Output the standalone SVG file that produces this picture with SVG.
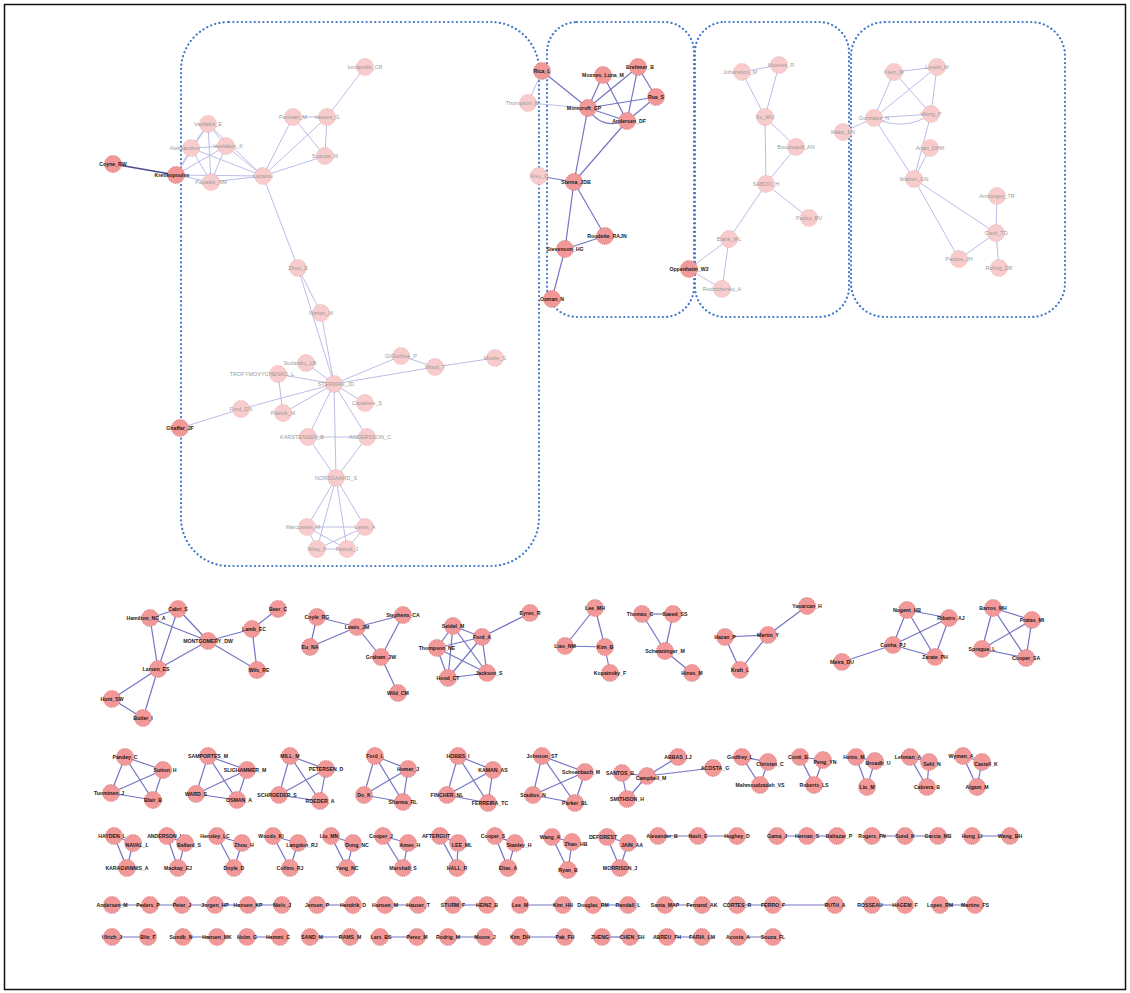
<svg xmlns="http://www.w3.org/2000/svg" width="1130" height="993" viewBox="0 0 1130 993">
<style>
.bg{fill:#fff}
.frame{fill:none;stroke:#111;stroke-width:1.5}
.box{fill:none;stroke:#3f78c8;stroke-width:2.2;stroke-dasharray:0.1 4.2;stroke-linecap:round}
.ef{stroke:#bcbce8;stroke-width:1;fill:none}
.ed{stroke:#7474c4;stroke-width:1.2;fill:none}
.ek{stroke:#4a4a90;stroke-width:1.6;fill:none}
.nf circle{fill:#f8cccc;stroke:#eaa9a9;stroke-width:0.8;stroke-dasharray:1.2 1}
.nb circle{fill:#f29898;stroke:#d26e6e;stroke-width:0.8;stroke-dasharray:1.2 1}
.nf text{fill:#9a9a9a;font-family:"Liberation Sans",Arial,sans-serif;font-size:5.5px;text-anchor:middle}
.nb text{fill:#1a1a1a;font-family:"Liberation Sans",Arial,sans-serif;font-size:5.2px;font-weight:bold;text-anchor:middle}
</style>
<rect class="bg" x="0" y="0" width="1130" height="993"/>
<rect class="frame" x="4.5" y="4.5" width="1121" height="985"/>
<g id="groups">
<rect class="box" x="181" y="22" width="358" height="544" rx="48"/>
<rect class="box" x="547" y="22" width="147" height="295" rx="30"/>
<rect class="box" x="695" y="22" width="154" height="295" rx="30"/>
<rect class="box" x="851" y="22" width="214" height="295" rx="34"/>
</g>
<g id="connectors">
<line class="ek" x1="113" y1="164" x2="176" y2="175"/>
<line class="ef" x1="176" y1="175" x2="191" y2="148"/>
<line class="ef" x1="176" y1="175" x2="208" y2="124"/>
<line class="ef" x1="176" y1="175" x2="226" y2="146"/>
<line class="ef" x1="176" y1="175" x2="211" y2="182"/>
<line class="ef" x1="176" y1="175" x2="263" y2="176"/>
<line class="ef" x1="191" y1="148" x2="208" y2="124"/>
<line class="ef" x1="191" y1="148" x2="226" y2="146"/>
<line class="ef" x1="191" y1="148" x2="211" y2="182"/>
<line class="ef" x1="191" y1="148" x2="263" y2="176"/>
<line class="ef" x1="208" y1="124" x2="226" y2="146"/>
<line class="ef" x1="208" y1="124" x2="211" y2="182"/>
<line class="ef" x1="208" y1="124" x2="263" y2="176"/>
<line class="ef" x1="226" y1="146" x2="211" y2="182"/>
<line class="ef" x1="226" y1="146" x2="263" y2="176"/>
<line class="ef" x1="211" y1="182" x2="263" y2="176"/>
<line class="ef" x1="263" y1="176" x2="293" y2="117"/>
<line class="ef" x1="263" y1="176" x2="327" y2="117"/>
<line class="ef" x1="263" y1="176" x2="325" y2="156"/>
<line class="ef" x1="263" y1="176" x2="298" y2="268"/>
<line class="ef" x1="293" y1="117" x2="327" y2="117"/>
<line class="ef" x1="293" y1="117" x2="325" y2="156"/>
<line class="ef" x1="327" y1="117" x2="325" y2="156"/>
<line class="ef" x1="327" y1="117" x2="365" y2="67"/>
<line class="ef" x1="298" y1="268" x2="321" y2="313"/>
<line class="ef" x1="298" y1="268" x2="334" y2="384"/>
<line class="ef" x1="321" y1="313" x2="334" y2="384"/>
<line class="ef" x1="334" y1="384" x2="306" y2="363"/>
<line class="ef" x1="334" y1="384" x2="278" y2="374"/>
<line class="ef" x1="334" y1="384" x2="401" y2="356"/>
<line class="ef" x1="334" y1="384" x2="435" y2="367"/>
<line class="ef" x1="334" y1="384" x2="365" y2="403"/>
<line class="ef" x1="334" y1="384" x2="283" y2="413"/>
<line class="ef" x1="334" y1="384" x2="241" y2="409"/>
<line class="ef" x1="334" y1="384" x2="308" y2="437"/>
<line class="ef" x1="334" y1="384" x2="367" y2="437"/>
<line class="ef" x1="334" y1="384" x2="336" y2="478"/>
<line class="ef" x1="278" y1="374" x2="283" y2="413"/>
<line class="ef" x1="180" y1="428" x2="241" y2="409"/>
<line class="ef" x1="401" y1="356" x2="435" y2="367"/>
<line class="ef" x1="435" y1="367" x2="495" y2="358"/>
<line class="ef" x1="308" y1="437" x2="367" y2="437"/>
<line class="ef" x1="308" y1="437" x2="336" y2="478"/>
<line class="ef" x1="367" y1="437" x2="336" y2="478"/>
<line class="ef" x1="336" y1="478" x2="307" y2="527"/>
<line class="ef" x1="336" y1="478" x2="365" y2="527"/>
<line class="ef" x1="336" y1="478" x2="317" y2="549"/>
<line class="ef" x1="336" y1="478" x2="347" y2="549"/>
<line class="ef" x1="307" y1="527" x2="365" y2="527"/>
<line class="ef" x1="307" y1="527" x2="317" y2="549"/>
<line class="ef" x1="307" y1="527" x2="347" y2="549"/>
<line class="ef" x1="365" y1="527" x2="317" y2="549"/>
<line class="ef" x1="365" y1="527" x2="347" y2="549"/>
<line class="ef" x1="317" y1="549" x2="347" y2="549"/>
<line class="ef" x1="542" y1="71" x2="528" y2="103"/>
<line class="ed" x1="542" y1="71" x2="588" y2="108"/>
<line class="ef" x1="528" y1="103" x2="588" y2="108"/>
<line class="ed" x1="588" y1="108" x2="603" y2="75"/>
<line class="ed" x1="588" y1="108" x2="638" y2="67"/>
<line class="ed" x1="588" y1="108" x2="656" y2="97"/>
<line class="ed" x1="588" y1="108" x2="627" y2="121"/>
<path class="ed" d="M588 108 Q600 130 627 121"/>
<line class="ed" x1="588" y1="108" x2="574" y2="182"/>
<line class="ed" x1="603" y1="75" x2="627" y2="121"/>
<line class="ed" x1="638" y1="67" x2="656" y2="97"/>
<line class="ed" x1="638" y1="67" x2="627" y2="121"/>
<line class="ed" x1="656" y1="97" x2="627" y2="121"/>
<line class="ed" x1="627" y1="121" x2="574" y2="182"/>
<line class="ed" x1="539" y1="176" x2="574" y2="182"/>
<line class="ed" x1="574" y1="182" x2="605" y2="236"/>
<line class="ed" x1="574" y1="182" x2="565" y2="249"/>
<line class="ed" x1="605" y1="236" x2="565" y2="249"/>
<line class="ed" x1="565" y1="249" x2="552" y2="299"/>
<line class="ef" x1="742" y1="72" x2="779" y2="65"/>
<line class="ef" x1="742" y1="72" x2="765" y2="117"/>
<line class="ef" x1="779" y1="65" x2="765" y2="117"/>
<line class="ef" x1="765" y1="117" x2="796" y2="147"/>
<line class="ef" x1="765" y1="117" x2="766" y2="184"/>
<line class="ef" x1="796" y1="147" x2="766" y2="184"/>
<line class="ef" x1="766" y1="184" x2="809" y2="218"/>
<line class="ef" x1="766" y1="184" x2="729" y2="239"/>
<line class="ef" x1="729" y1="239" x2="689" y2="269"/>
<line class="ef" x1="729" y1="239" x2="722" y2="289"/>
<line class="ef" x1="689" y1="269" x2="722" y2="289"/>
<line class="ef" x1="894" y1="72" x2="937" y2="67"/>
<line class="ef" x1="894" y1="72" x2="874" y2="118"/>
<line class="ef" x1="894" y1="72" x2="931" y2="114"/>
<line class="ef" x1="937" y1="67" x2="874" y2="118"/>
<line class="ef" x1="937" y1="67" x2="931" y2="114"/>
<line class="ef" x1="874" y1="118" x2="931" y2="114"/>
<path class="ef" d="M874 118 Q905 132 931 114"/>
<line class="ef" x1="874" y1="118" x2="843" y2="132"/>
<line class="ef" x1="874" y1="118" x2="914" y2="179"/>
<line class="ef" x1="931" y1="114" x2="914" y2="179"/>
<line class="ef" x1="930" y1="148" x2="914" y2="179"/>
<line class="ef" x1="914" y1="179" x2="996" y2="233"/>
<line class="ef" x1="914" y1="179" x2="959" y2="259"/>
<line class="ef" x1="997" y1="196" x2="996" y2="233"/>
<line class="ef" x1="996" y1="233" x2="959" y2="259"/>
<line class="ef" x1="996" y1="233" x2="999" y2="268"/>
<line class="ed" x1="150" y1="618" x2="178" y2="609"/>
<line class="ed" x1="150" y1="618" x2="208" y2="641"/>
<line class="ed" x1="150" y1="618" x2="158" y2="669"/>
<line class="ed" x1="178" y1="609" x2="208" y2="641"/>
<line class="ed" x1="178" y1="609" x2="158" y2="669"/>
<line class="ed" x1="208" y1="641" x2="158" y2="669"/>
<line class="ed" x1="208" y1="641" x2="252" y2="629"/>
<line class="ed" x1="208" y1="641" x2="257" y2="670"/>
<line class="ed" x1="252" y1="629" x2="278" y2="609"/>
<line class="ed" x1="252" y1="629" x2="257" y2="670"/>
<line class="ed" x1="158" y1="669" x2="112" y2="699"/>
<line class="ed" x1="158" y1="669" x2="143" y2="718"/>
<line class="ed" x1="112" y1="699" x2="143" y2="718"/>
<line class="ed" x1="317" y1="617" x2="310" y2="647"/>
<line class="ed" x1="317" y1="617" x2="357" y2="627"/>
<line class="ed" x1="310" y1="647" x2="357" y2="627"/>
<line class="ed" x1="357" y1="627" x2="403" y2="615"/>
<line class="ed" x1="357" y1="627" x2="381" y2="657"/>
<line class="ed" x1="403" y1="615" x2="381" y2="657"/>
<line class="ed" x1="381" y1="657" x2="398" y2="693"/>
<line class="ed" x1="453" y1="626" x2="482" y2="637"/>
<line class="ed" x1="453" y1="626" x2="437" y2="648"/>
<line class="ed" x1="453" y1="626" x2="448" y2="678"/>
<line class="ed" x1="453" y1="626" x2="487" y2="673"/>
<line class="ed" x1="482" y1="637" x2="437" y2="648"/>
<line class="ed" x1="482" y1="637" x2="448" y2="678"/>
<line class="ed" x1="482" y1="637" x2="487" y2="673"/>
<line class="ed" x1="482" y1="637" x2="530" y2="613"/>
<line class="ed" x1="437" y1="648" x2="448" y2="678"/>
<line class="ed" x1="437" y1="648" x2="487" y2="673"/>
<line class="ed" x1="448" y1="678" x2="487" y2="673"/>
<line class="ed" x1="595" y1="608" x2="565" y2="646"/>
<line class="ed" x1="595" y1="608" x2="605" y2="647"/>
<line class="ed" x1="565" y1="646" x2="605" y2="647"/>
<line class="ed" x1="605" y1="647" x2="610" y2="673"/>
<line class="ed" x1="642" y1="614" x2="673" y2="614"/>
<line class="ed" x1="642" y1="614" x2="665" y2="651"/>
<line class="ed" x1="673" y1="614" x2="665" y2="651"/>
<line class="ed" x1="665" y1="651" x2="692" y2="673"/>
<line class="ed" x1="725" y1="637" x2="768" y2="635"/>
<line class="ed" x1="725" y1="637" x2="740" y2="670"/>
<line class="ed" x1="768" y1="635" x2="740" y2="670"/>
<line class="ed" x1="768" y1="635" x2="807" y2="606"/>
<line class="ed" x1="907" y1="610" x2="949" y2="618"/>
<line class="ed" x1="907" y1="610" x2="893" y2="645"/>
<line class="ed" x1="907" y1="610" x2="935" y2="657"/>
<line class="ed" x1="949" y1="618" x2="893" y2="645"/>
<line class="ed" x1="949" y1="618" x2="935" y2="657"/>
<line class="ed" x1="893" y1="645" x2="935" y2="657"/>
<line class="ed" x1="893" y1="645" x2="842" y2="662"/>
<line class="ed" x1="993" y1="608" x2="1032" y2="620"/>
<line class="ed" x1="993" y1="608" x2="982" y2="649"/>
<line class="ed" x1="993" y1="608" x2="1026" y2="658"/>
<line class="ed" x1="1032" y1="620" x2="982" y2="649"/>
<line class="ed" x1="1032" y1="620" x2="1026" y2="658"/>
<line class="ed" x1="982" y1="649" x2="1026" y2="658"/>
<line class="ed" x1="125" y1="757" x2="163" y2="770"/><line class="ed" x1="125" y1="757" x2="111" y2="793"/><line class="ed" x1="125" y1="757" x2="153" y2="800"/><line class="ed" x1="163" y1="770" x2="111" y2="793"/><line class="ed" x1="163" y1="770" x2="153" y2="800"/><line class="ed" x1="111" y1="793" x2="153" y2="800"/>
<line class="ed" x1="208" y1="756" x2="247" y2="770"/><line class="ed" x1="208" y1="756" x2="196" y2="794"/><line class="ed" x1="208" y1="756" x2="237" y2="800"/><line class="ed" x1="247" y1="770" x2="196" y2="794"/><line class="ed" x1="247" y1="770" x2="237" y2="800"/><line class="ed" x1="196" y1="794" x2="237" y2="800"/>
<line class="ed" x1="290" y1="756" x2="326" y2="769"/><line class="ed" x1="290" y1="756" x2="279" y2="795"/><line class="ed" x1="290" y1="756" x2="320" y2="801"/><line class="ed" x1="326" y1="769" x2="279" y2="795"/><line class="ed" x1="326" y1="769" x2="320" y2="801"/><line class="ed" x1="279" y1="795" x2="320" y2="801"/>
<line class="ed" x1="375" y1="756" x2="408" y2="769"/><line class="ed" x1="375" y1="756" x2="364" y2="795"/><line class="ed" x1="375" y1="756" x2="403" y2="802"/><line class="ed" x1="408" y1="769" x2="364" y2="795"/><line class="ed" x1="408" y1="769" x2="403" y2="802"/><line class="ed" x1="364" y1="795" x2="403" y2="802"/>
<line class="ed" x1="458" y1="756" x2="493" y2="770"/><line class="ed" x1="458" y1="756" x2="447" y2="795"/><line class="ed" x1="458" y1="756" x2="488" y2="803"/><line class="ed" x1="493" y1="770" x2="447" y2="795"/><line class="ed" x1="493" y1="770" x2="488" y2="803"/><line class="ed" x1="447" y1="795" x2="488" y2="803"/>
<line class="ed" x1="542" y1="756" x2="585" y2="772"/><line class="ed" x1="542" y1="756" x2="533" y2="795"/><line class="ed" x1="542" y1="756" x2="575" y2="803"/><line class="ed" x1="585" y1="772" x2="533" y2="795"/><line class="ed" x1="585" y1="772" x2="575" y2="803"/><line class="ed" x1="533" y1="795" x2="575" y2="803"/>
<line class="ed" x1="622" y1="773" x2="647" y2="776"/>
<line class="ed" x1="622" y1="773" x2="627" y2="799"/>
<line class="ed" x1="647" y1="776" x2="627" y2="799"/>
<line class="ed" x1="647" y1="776" x2="678" y2="757"/>
<line class="ed" x1="647" y1="776" x2="713" y2="768"/>
<line class="ed" x1="742" y1="757" x2="768" y2="762"/><line class="ed" x1="742" y1="757" x2="760" y2="785"/><line class="ed" x1="768" y1="762" x2="760" y2="785"/>
<line class="ed" x1="800" y1="757" x2="823" y2="760"/><line class="ed" x1="800" y1="757" x2="814" y2="785"/><line class="ed" x1="823" y1="760" x2="814" y2="785"/>
<line class="ed" x1="856" y1="757" x2="875" y2="761"/><line class="ed" x1="856" y1="757" x2="867" y2="787"/><line class="ed" x1="875" y1="761" x2="867" y2="787"/>
<line class="ed" x1="910" y1="757" x2="929" y2="762"/><line class="ed" x1="910" y1="757" x2="927" y2="787"/><line class="ed" x1="929" y1="762" x2="927" y2="787"/>
<line class="ed" x1="963" y1="756" x2="982" y2="762"/><line class="ed" x1="963" y1="756" x2="977" y2="787"/><line class="ed" x1="982" y1="762" x2="977" y2="787"/>
<line class="ed" x1="114" y1="836" x2="133" y2="843"/><line class="ed" x1="114" y1="836" x2="127" y2="868"/><line class="ed" x1="133" y1="843" x2="127" y2="868"/>
<line class="ed" x1="167" y1="836" x2="185" y2="843"/><line class="ed" x1="167" y1="836" x2="178" y2="868"/><line class="ed" x1="185" y1="843" x2="178" y2="868"/>
<line class="ed" x1="217" y1="836" x2="242" y2="843"/><line class="ed" x1="217" y1="836" x2="234" y2="868"/><line class="ed" x1="242" y1="843" x2="234" y2="868"/>
<line class="ed" x1="273" y1="836" x2="298" y2="843"/><line class="ed" x1="273" y1="836" x2="290" y2="868"/><line class="ed" x1="298" y1="843" x2="290" y2="868"/>
<line class="ed" x1="331" y1="836" x2="353" y2="843"/><line class="ed" x1="331" y1="836" x2="347" y2="868"/><line class="ed" x1="353" y1="843" x2="347" y2="868"/>
<line class="ed" x1="383" y1="836" x2="408" y2="843"/><line class="ed" x1="383" y1="836" x2="403" y2="868"/><line class="ed" x1="408" y1="843" x2="403" y2="868"/>
<line class="ed" x1="440" y1="836" x2="458" y2="843"/><line class="ed" x1="440" y1="836" x2="457" y2="868"/><line class="ed" x1="458" y1="843" x2="457" y2="868"/>
<line class="ed" x1="495" y1="836" x2="515" y2="843"/><line class="ed" x1="495" y1="836" x2="508" y2="868"/><line class="ed" x1="515" y1="843" x2="508" y2="868"/>
<line class="ed" x1="552" y1="837" x2="572" y2="842"/><line class="ed" x1="552" y1="837" x2="568" y2="870"/><line class="ed" x1="572" y1="842" x2="568" y2="870"/>
<line class="ed" x1="607" y1="837" x2="628" y2="843"/><line class="ed" x1="607" y1="837" x2="620" y2="868"/><line class="ed" x1="628" y1="843" x2="620" y2="868"/>
<line class="ed" x1="658" y1="836" x2="737" y2="836"/>
<line class="ed" x1="777" y1="836" x2="837" y2="836"/>
<line class="ed" x1="872" y1="836" x2="938" y2="836"/>
<line class="ed" x1="972" y1="836" x2="1010" y2="836"/>
<line class="ed" x1="112" y1="905" x2="282" y2="905"/>
<line class="ed" x1="317" y1="905" x2="353" y2="905"/>
<line class="ed" x1="385" y1="905" x2="418" y2="905"/>
<line class="ed" x1="453" y1="905" x2="487" y2="905"/>
<line class="ed" x1="520" y1="905" x2="563" y2="905"/>
<line class="ed" x1="593" y1="905" x2="628" y2="905"/>
<line class="ed" x1="665" y1="905" x2="702" y2="905"/>
<line class="ed" x1="737" y1="905" x2="835" y2="905"/>
<line class="ed" x1="872" y1="905" x2="905" y2="905"/>
<line class="ed" x1="940" y1="905" x2="975" y2="905"/>
<line class="ed" x1="112" y1="937" x2="148" y2="937"/>
<line class="ed" x1="183" y1="937" x2="217" y2="937"/>
<line class="ed" x1="247" y1="937" x2="280" y2="937"/>
<line class="ed" x1="310" y1="937" x2="350" y2="937"/>
<line class="ed" x1="380" y1="937" x2="417" y2="937"/>
<line class="ed" x1="448" y1="937" x2="485" y2="937"/>
<line class="ed" x1="520" y1="937" x2="565" y2="937"/>
<line class="ed" x1="602" y1="937" x2="630" y2="937"/>
<line class="ed" x1="667" y1="937" x2="702" y2="937"/>
<line class="ed" x1="738" y1="937" x2="773" y2="937"/>
</g>
<g id="n-iordanidis" class="nf"><circle cx="365" cy="67" r="8.5"/><text x="365" y="69">Iordanidis_CR</text></g>
<g id="n-pantsari" class="nf"><circle cx="293" cy="117" r="8.5"/><text x="293" y="119">Pantsari_M</text></g>
<g id="n-vassos" class="nf"><circle cx="327" cy="117" r="8.5"/><text x="327" y="119">Vassos_G</text></g>
<g id="n-spanos" class="nf"><circle cx="325" cy="156" r="8.5"/><text x="325" y="158">Spanos_M</text></g>
<g id="n-vasilakis" class="nf"><circle cx="208" cy="124" r="8.5"/><text x="208" y="126">Vasilakis_E</text></g>
<g id="n-aleksandrov" class="nf"><circle cx="191" cy="148" r="8.5"/><text x="185" y="150">Aleksandrov</text></g>
<g id="n-vasilakos" class="nf"><circle cx="226" cy="146" r="8.5"/><text x="228" y="148">Vasilakos_K</text></g>
<g id="n-papadis" class="nf"><circle cx="211" cy="182" r="8.5"/><text x="211" y="184">Papadis_NM</text></g>
<g id="n-lazarou" class="nf"><circle cx="263" cy="176" r="8.5"/><text x="263" y="178">Lazarou</text></g>
<g id="n-kretikopoulos" class="nb"><circle cx="176" cy="175" r="8.5"/><text x="172" y="177">Kretikopoulos</text></g>
<g id="n-coyne" class="nb"><circle cx="113" cy="164" r="8.5"/><text x="113" y="166">Coyne_RW</text></g>
<g id="n-zirou" class="nf"><circle cx="298" cy="268" r="8.5"/><text x="298" y="270">Zirou_S</text></g>
<g id="n-norton" class="nf"><circle cx="321" cy="313" r="8.5"/><text x="321" y="315">Norton_M</text></g>
<g id="n-sterman" class="nf"><circle cx="334" cy="384" r="8.5"/><text x="336" y="386">STERMAN_JD</text></g>
<g id="n-sudarsky" class="nf"><circle cx="306" cy="363" r="8.5"/><text x="300" y="365">Sudarsky_LB</text></g>
<g id="n-trofymovych" class="nf"><circle cx="278" cy="374" r="8.5"/><text x="262" y="376">TROFYMOVYCHENKO_L</text></g>
<g id="n-gilgorbea" class="nf"><circle cx="401" cy="356" r="8.5"/><text x="401" y="358">GilGorbea_P</text></g>
<g id="n-wood" class="nf"><circle cx="435" cy="367" r="8.5"/><text x="435" y="369">Wood_T</text></g>
<g id="n-moore-s" class="nf"><circle cx="495" cy="358" r="8.5"/><text x="495" y="360">Moore_S</text></g>
<g id="n-cavaliere" class="nf"><circle cx="365" cy="403" r="8.5"/><text x="367" y="405">Cavaliere_S</text></g>
<g id="n-patrick-m" class="nf"><circle cx="283" cy="413" r="8.5"/><text x="283" y="415">Patrick_M</text></g>
<g id="n-ford-dn" class="nf"><circle cx="241" cy="409" r="8.5"/><text x="241" y="411">Ford_DN</text></g>
<g id="n-ghaffar" class="nb"><circle cx="180" cy="428" r="8.5"/><text x="180" y="430">Ghaffar_JF</text></g>
<g id="n-karstensen" class="nf"><circle cx="308" cy="437" r="8.5"/><text x="302" y="439">KARSTENSEN_B</text></g>
<g id="n-andersson" class="nf"><circle cx="367" cy="437" r="8.5"/><text x="370" y="439">ANDERSSON_C</text></g>
<g id="n-norsgaard" class="nf"><circle cx="336" cy="478" r="8.5"/><text x="336" y="480">NORSGAARD_S</text></g>
<g id="n-marcussen" class="nf"><circle cx="307" cy="527" r="8.5"/><text x="303" y="529">Marcussen_M</text></g>
<g id="n-lewis-a" class="nf"><circle cx="365" cy="527" r="8.5"/><text x="365" y="529">Lewis_A</text></g>
<g id="n-wray" class="nf"><circle cx="317" cy="549" r="8.5"/><text x="317" y="551">Wray_F</text></g>
<g id="n-patrick-j" class="nf"><circle cx="347" cy="549" r="8.5"/><text x="347" y="551">Patrick_J</text></g>
<g id="n-rica" class="nb"><circle cx="542" cy="71" r="8.5"/><text x="542" y="73">Rica_L</text></g>
<g id="n-thompson-b" class="nf"><circle cx="528" cy="103" r="8.5"/><text x="522" y="105">Thompson_B</text></g>
<g id="n-moxnes-m" class="nb"><circle cx="603" cy="75" r="8.5"/><text x="603" y="77">Moxnes_Luna_M</text></g>
<g id="n-brehmer" class="nb"><circle cx="638" cy="67" r="8.5"/><text x="640" y="69">Brehmer_B</text></g>
<g id="n-rua" class="nb"><circle cx="656" cy="97" r="8.5"/><text x="656" y="99">Rua_S</text></g>
<g id="n-morecroft" class="nb"><circle cx="588" cy="108" r="8.5"/><text x="584" y="110">Morecroft_GP</text></g>
<g id="n-andersen-df" class="nb"><circle cx="627" cy="121" r="8.5"/><text x="629" y="123">Andersen_DF</text></g>
<g id="n-frey" class="nf"><circle cx="539" cy="176" r="8.5"/><text x="539" y="178">Frey_C</text></g>
<g id="n-sterna" class="nb"><circle cx="574" cy="182" r="8.5"/><text x="576" y="184">Sterna_JDB</text></g>
<g id="n-roudette" class="nb"><circle cx="605" cy="236" r="8.5"/><text x="607" y="238">Roudette_RAJN</text></g>
<g id="n-stevenson" class="nb"><circle cx="565" cy="249" r="8.5"/><text x="565" y="251">Stevenson_HG</text></g>
<g id="n-oxman" class="nb"><circle cx="552" cy="299" r="8.5"/><text x="552" y="301">Oxman_N</text></g>
<g id="n-oppenheim" class="nb"><circle cx="689" cy="269" r="8.5"/><text x="689" y="271">Oppenheim_W2</text></g>
<g id="n-johansson" class="nf"><circle cx="742" cy="72" r="8.5"/><text x="740" y="74">Johansson_M</text></g>
<g id="n-moxnes-r" class="nf"><circle cx="779" cy="65" r="8.5"/><text x="781" y="67">Moxnes_R</text></g>
<g id="n-xu" class="nf"><circle cx="765" cy="117" r="8.5"/><text x="765" y="119">Xu_WU</text></g>
<g id="n-boudreault" class="nf"><circle cx="796" cy="147" r="8.5"/><text x="796" y="149">Boudreault_AN</text></g>
<g id="n-saboo" class="nf"><circle cx="766" cy="184" r="8.5"/><text x="766" y="186">SABOO_H</text></g>
<g id="n-padsu" class="nf"><circle cx="809" cy="218" r="8.5"/><text x="809" y="220">Padsu_RV</text></g>
<g id="n-blank" class="nf"><circle cx="729" cy="239" r="8.5"/><text x="729" y="241">Blank_ML</text></g>
<g id="n-rodzichenko" class="nf"><circle cx="722" cy="289" r="8.5"/><text x="722" y="291">Rodzichenko_A</text></g>
<g id="n-klein" class="nf"><circle cx="894" cy="72" r="8.5"/><text x="894" y="74">Klein_M</text></g>
<g id="n-lyneis" class="nf"><circle cx="937" cy="67" r="8.5"/><text x="937" y="69">Lyneis_M</text></g>
<g id="n-gonzalez" class="nf"><circle cx="874" cy="118" r="8.5"/><text x="874" y="120">Gonzalez_N</text></g>
<g id="n-wong" class="nf"><circle cx="931" cy="114" r="8.5"/><text x="931" y="116">Wong_P</text></g>
<g id="n-mako" class="nf"><circle cx="843" cy="132" r="8.5"/><text x="843" y="134">Mako_EN</text></g>
<g id="n-artan" class="nf"><circle cx="930" cy="148" r="8.5"/><text x="930" y="150">Artan_DHM</text></g>
<g id="n-warren" class="nf"><circle cx="914" cy="179" r="8.5"/><text x="914" y="181">Warren_GN</text></g>
<g id="n-amburgey" class="nf"><circle cx="997" cy="196" r="8.5"/><text x="997" y="198">Amburgey_TR</text></g>
<g id="n-clark" class="nf"><circle cx="996" cy="233" r="8.5"/><text x="996" y="235">Clark_TD</text></g>
<g id="n-pardue" class="nf"><circle cx="959" cy="259" r="8.5"/><text x="959" y="261">Pardue_JH</text></g>
<g id="n-rohrig" class="nf"><circle cx="999" cy="268" r="8.5"/><text x="999" y="270">Rohrig_DR</text></g>
<g id="n-hamilton" class="nb"><circle cx="150" cy="618" r="8.5"/><text x="146" y="620">Hamilton_NC_A</text></g>
<g id="n-cabri" class="nb"><circle cx="178" cy="609" r="8.5"/><text x="178" y="611">Cabri_S</text></g>
<g id="n-montgomery" class="nb"><circle cx="208" cy="641" r="8.5"/><text x="208" y="643">MONTGOMERY_DW</text></g>
<g id="n-lamb" class="nb"><circle cx="252" cy="629" r="8.5"/><text x="254" y="631">Lamb_EC</text></g>
<g id="n-beer" class="nb"><circle cx="278" cy="609" r="8.5"/><text x="278" y="611">Beer_C</text></g>
<g id="n-wils" class="nb"><circle cx="257" cy="670" r="8.5"/><text x="259" y="672">Wils_RE</text></g>
<g id="n-larsen" class="nb"><circle cx="158" cy="669" r="8.5"/><text x="156" y="671">Larsen_ES</text></g>
<g id="n-hunt" class="nb"><circle cx="112" cy="699" r="8.5"/><text x="112" y="701">Hunt_SW</text></g>
<g id="n-butler" class="nb"><circle cx="143" cy="718" r="8.5"/><text x="143" y="720">Butler_I</text></g>
<g id="n-coyle" class="nb"><circle cx="317" cy="617" r="8.5"/><text x="317" y="619">Coyle_RG</text></g>
<g id="n-eu" class="nb"><circle cx="310" cy="647" r="8.5"/><text x="310" y="649">Eu_NA</text></g>
<g id="n-lewis-jm" class="nb"><circle cx="357" cy="627" r="8.5"/><text x="357" y="629">Lewis_JM</text></g>
<g id="n-stephens" class="nb"><circle cx="403" cy="615" r="8.5"/><text x="403" y="617">Stephens_CA</text></g>
<g id="n-graham" class="nb"><circle cx="381" cy="657" r="8.5"/><text x="381" y="659">Graham_JW</text></g>
<g id="n-wild" class="nb"><circle cx="398" cy="693" r="8.5"/><text x="398" y="695">Wild_CM</text></g>
<g id="n-seidel" class="nb"><circle cx="453" cy="626" r="8.5"/><text x="453" y="628">Seidel_M</text></g>
<g id="n-ford-a" class="nb"><circle cx="482" cy="637" r="8.5"/><text x="482" y="639">Ford_A</text></g>
<g id="n-eyres" class="nb"><circle cx="530" cy="613" r="8.5"/><text x="530" y="615">Eyres_R</text></g>
<g id="n-thompson-ne" class="nb"><circle cx="437" cy="648" r="8.5"/><text x="437" y="650">Thompson_NE</text></g>
<g id="n-hood" class="nb"><circle cx="448" cy="678" r="8.5"/><text x="448" y="680">Hood_CT</text></g>
<g id="n-jackson" class="nb"><circle cx="487" cy="673" r="8.5"/><text x="489" y="675">Jackson_S</text></g>
<g id="n-lee-mh" class="nb"><circle cx="595" cy="608" r="8.5"/><text x="595" y="610">Lee_MH</text></g>
<g id="n-liao" class="nb"><circle cx="565" cy="646" r="8.5"/><text x="565" y="648">Liao_NM</text></g>
<g id="n-kim-b" class="nb"><circle cx="605" cy="647" r="8.5"/><text x="605" y="649">Kim_B</text></g>
<g id="n-kopainsky" class="nb"><circle cx="610" cy="673" r="8.5"/><text x="610" y="675">Kopainsky_F</text></g>
<g id="n-thomas" class="nb"><circle cx="642" cy="614" r="8.5"/><text x="640" y="616">Thomas_C</text></g>
<g id="n-saeed" class="nb"><circle cx="673" cy="614" r="8.5"/><text x="675" y="616">Saeed_SS</text></g>
<g id="n-schwaninger" class="nb"><circle cx="665" cy="651" r="8.5"/><text x="665" y="653">Schwaninger_M</text></g>
<g id="n-hines" class="nb"><circle cx="692" cy="673" r="8.5"/><text x="692" y="675">Hines_M</text></g>
<g id="n-hazan" class="nb"><circle cx="725" cy="637" r="8.5"/><text x="725" y="639">Hazan_P</text></g>
<g id="n-martin" class="nb"><circle cx="768" cy="635" r="8.5"/><text x="768" y="637">Martin_Y</text></g>
<g id="n-yasarcan" class="nb"><circle cx="807" cy="606" r="8.5"/><text x="807" y="608">Yasarcan_H</text></g>
<g id="n-kraft" class="nb"><circle cx="740" cy="670" r="8.5"/><text x="740" y="672">Kraft_L</text></g>
<g id="n-nugent" class="nb"><circle cx="907" cy="610" r="8.5"/><text x="907" y="612">Nugent_HB</text></g>
<g id="n-ribeiro" class="nb"><circle cx="949" cy="618" r="8.5"/><text x="951" y="620">Ribeiro_AJ</text></g>
<g id="n-cunha" class="nb"><circle cx="893" cy="645" r="8.5"/><text x="893" y="647">Cunha_PJ</text></g>
<g id="n-zarate" class="nb"><circle cx="935" cy="657" r="8.5"/><text x="935" y="659">Zarate_PH</text></g>
<g id="n-meira" class="nb"><circle cx="842" cy="662" r="8.5"/><text x="842" y="664">Meira_DU</text></g>
<g id="n-barros" class="nb"><circle cx="993" cy="608" r="8.5"/><text x="993" y="610">Barros_MH</text></g>
<g id="n-pratas" class="nb"><circle cx="1032" cy="620" r="8.5"/><text x="1032" y="622">Pratas_MI</text></g>
<g id="n-sprague" class="nb"><circle cx="982" cy="649" r="8.5"/><text x="982" y="651">Sprague_L</text></g>
<g id="n-cooper-sa" class="nb"><circle cx="1026" cy="658" r="8.5"/><text x="1026" y="660">Cooper_SA</text></g>
<g id="n-pandey" class="nb"><circle cx="125" cy="757" r="8.5"/><text x="125" y="759">Pandey_C</text></g>
<g id="n-sutton" class="nb"><circle cx="163" cy="770" r="8.5"/><text x="165" y="772">Sutton_H</text></g>
<g id="n-tuominen" class="nb"><circle cx="111" cy="793" r="8.5"/><text x="109" y="795">Tuominen_J</text></g>
<g id="n-blair" class="nb"><circle cx="153" cy="800" r="8.5"/><text x="153" y="802">Blair_B</text></g>
<g id="n-samportes" class="nb"><circle cx="208" cy="756" r="8.5"/><text x="208" y="758">SAMPORTES_M</text></g>
<g id="n-slighammer" class="nb"><circle cx="247" cy="770" r="8.5"/><text x="245" y="772">SLIGHAMMER_M</text></g>
<g id="n-ward" class="nb"><circle cx="196" cy="794" r="8.5"/><text x="196" y="796">WARD_S</text></g>
<g id="n-osman" class="nb"><circle cx="237" cy="800" r="8.5"/><text x="239" y="802">OSMAN_A</text></g>
<g id="n-mill" class="nb"><circle cx="290" cy="756" r="8.5"/><text x="290" y="758">MILL_M</text></g>
<g id="n-petersen-d" class="nb"><circle cx="326" cy="769" r="8.5"/><text x="326" y="771">PETERSEN_D</text></g>
<g id="n-schroeder" class="nb"><circle cx="279" cy="795" r="8.5"/><text x="277" y="797">SCHROEDER_S</text></g>
<g id="n-roeder" class="nb"><circle cx="320" cy="801" r="8.5"/><text x="320" y="803">ROEDER_A</text></g>
<g id="n-ford-l" class="nb"><circle cx="375" cy="756" r="8.5"/><text x="375" y="758">Ford_L</text></g>
<g id="n-homer" class="nb"><circle cx="408" cy="769" r="8.5"/><text x="408" y="771">Homer_J</text></g>
<g id="n-do" class="nb"><circle cx="364" cy="795" r="8.5"/><text x="364" y="797">Do_K</text></g>
<g id="n-sharma" class="nb"><circle cx="403" cy="802" r="8.5"/><text x="403" y="804">Sharma_RL</text></g>
<g id="n-hobbs" class="nb"><circle cx="458" cy="756" r="8.5"/><text x="458" y="758">HOBBS_I</text></g>
<g id="n-kaman" class="nb"><circle cx="493" cy="770" r="8.5"/><text x="493" y="772">KAMAN_AS</text></g>
<g id="n-fincher" class="nb"><circle cx="447" cy="795" r="8.5"/><text x="447" y="797">FINCHER_NL</text></g>
<g id="n-ferreira" class="nb"><circle cx="488" cy="803" r="8.5"/><text x="490" y="805">FERREIRA_TC</text></g>
<g id="n-johnson" class="nb"><circle cx="542" cy="756" r="8.5"/><text x="542" y="758">Johnson_ST</text></g>
<g id="n-schoenbach" class="nb"><circle cx="585" cy="772" r="8.5"/><text x="581" y="774">Schoenbach_M</text></g>
<g id="n-stadius" class="nb"><circle cx="533" cy="795" r="8.5"/><text x="533" y="797">Stadius_N</text></g>
<g id="n-parker" class="nb"><circle cx="575" cy="803" r="8.5"/><text x="575" y="805">Parker_BL</text></g>
<g id="n-santos" class="nb"><circle cx="622" cy="773" r="8.5"/><text x="620" y="775">SANTOS_B</text></g>
<g id="n-campbell" class="nb"><circle cx="647" cy="776" r="8.5"/><text x="651" y="780">Campbell_M</text></g>
<g id="n-smithson" class="nb"><circle cx="627" cy="799" r="8.5"/><text x="627" y="801">SMITHSON_H</text></g>
<g id="n-abbas" class="nb"><circle cx="678" cy="757" r="8.5"/><text x="678" y="759">ABBAS_LJ</text></g>
<g id="n-acosta-g" class="nb"><circle cx="713" cy="768" r="8.5"/><text x="715" y="770">ACOSTA_G</text></g>
<g id="n-godfrey" class="nb"><circle cx="742" cy="757" r="8.5"/><text x="740" y="759">Godfrey_L</text></g>
<g id="n-christensen" class="nb"><circle cx="768" cy="762" r="8.5"/><text x="770" y="766">Christen_C</text></g>
<g id="n-mahmoud" class="nb"><circle cx="760" cy="785" r="8.5"/><text x="760" y="787">Mahmoudzadeh_VS</text></g>
<g id="n-compagnoni" class="nb"><circle cx="800" cy="757" r="8.5"/><text x="798" y="759">Conti_B</text></g>
<g id="n-peng" class="nb"><circle cx="823" cy="760" r="8.5"/><text x="825" y="764">Peng_YN</text></g>
<g id="n-roberts" class="nb"><circle cx="814" cy="785" r="8.5"/><text x="814" y="787">Roberts_LS</text></g>
<g id="n-heinsbroek" class="nb"><circle cx="856" cy="757" r="8.5"/><text x="854" y="759">Heins_M</text></g>
<g id="n-broadh" class="nb"><circle cx="875" cy="761" r="8.5"/><text x="878" y="765">Broadh_U</text></g>
<g id="n-liu-m" class="nb"><circle cx="867" cy="787" r="8.5"/><text x="867" y="789">Liu_M</text></g>
<g id="n-lehman" class="nb"><circle cx="910" cy="757" r="8.5"/><text x="908" y="759">Lehman_A</text></g>
<g id="n-sehl" class="nb"><circle cx="929" cy="762" r="8.5"/><text x="932" y="766">Sehl_N</text></g>
<g id="n-cabrera" class="nb"><circle cx="927" cy="787" r="8.5"/><text x="927" y="789">Cabrera_B</text></g>
<g id="n-wyman" class="nb"><circle cx="963" cy="756" r="8.5"/><text x="961" y="758">Wyman_A</text></g>
<g id="n-castellano" class="nb"><circle cx="982" cy="762" r="8.5"/><text x="986" y="766">Castell_K</text></g>
<g id="n-algam" class="nb"><circle cx="977" cy="787" r="8.5"/><text x="977" y="789">Algam_M</text></g>
<g id="n-hayden" class="nb"><circle cx="114" cy="836" r="8.5"/><text x="112" y="838">HAYDEN_L</text></g>
<g id="n-naval" class="nb"><circle cx="133" cy="843" r="8.5"/><text x="137" y="847">NAVAL_L</text></g>
<g id="n-karagiannis" class="nb"><circle cx="127" cy="868" r="8.5"/><text x="127" y="870">KARAGIANNIS_A</text></g>
<g id="n-anderson-le" class="nb"><circle cx="167" cy="836" r="8.5"/><text x="165" y="838">ANDERSON_L</text></g>
<g id="n-ballard" class="nb"><circle cx="185" cy="843" r="8.5"/><text x="189" y="847">Ballard_S</text></g>
<g id="n-mackay" class="nb"><circle cx="178" cy="868" r="8.5"/><text x="178" y="870">Mackay_EJ</text></g>
<g id="n-hensley" class="nb"><circle cx="217" cy="836" r="8.5"/><text x="215" y="838">Hensley_LC</text></g>
<g id="n-zhou" class="nb"><circle cx="242" cy="843" r="8.5"/><text x="244" y="847">Zhou_H</text></g>
<g id="n-doyle" class="nb"><circle cx="234" cy="868" r="8.5"/><text x="234" y="870">Doyle_D</text></g>
<g id="n-woods" class="nb"><circle cx="273" cy="836" r="8.5"/><text x="271" y="838">Woods_KI</text></g>
<g id="n-langdon" class="nb"><circle cx="298" cy="843" r="8.5"/><text x="302" y="847">Langdon_RJ</text></g>
<g id="n-collins" class="nb"><circle cx="290" cy="868" r="8.5"/><text x="290" y="870">Collins_RJ</text></g>
<g id="n-liu-mn" class="nb"><circle cx="331" cy="836" r="8.5"/><text x="329" y="838">Liu_MN</text></g>
<g id="n-dong" class="nb"><circle cx="353" cy="843" r="8.5"/><text x="357" y="847">Dong_NC</text></g>
<g id="n-yang" class="nb"><circle cx="347" cy="868" r="8.5"/><text x="347" y="870">Yang_NC</text></g>
<g id="n-cooper-j" class="nb"><circle cx="383" cy="836" r="8.5"/><text x="381" y="838">Cooper_J</text></g>
<g id="n-ames" class="nb"><circle cx="408" cy="843" r="8.5"/><text x="410" y="847">Ames_H</text></g>
<g id="n-marshall" class="nb"><circle cx="403" cy="868" r="8.5"/><text x="403" y="870">Marshall_S</text></g>
<g id="n-aftergut" class="nb"><circle cx="440" cy="836" r="8.5"/><text x="436" y="838">AFTERGUT</text></g>
<g id="n-lee-ml" class="nb"><circle cx="458" cy="843" r="8.5"/><text x="462" y="847">LEE_ML</text></g>
<g id="n-hall" class="nb"><circle cx="457" cy="868" r="8.5"/><text x="457" y="870">HALL_R</text></g>
<g id="n-cooper-s" class="nb"><circle cx="495" cy="836" r="8.5"/><text x="493" y="838">Cooper_S</text></g>
<g id="n-stanley" class="nb"><circle cx="515" cy="843" r="8.5"/><text x="519" y="847">Stanley_H</text></g>
<g id="n-elias" class="nb"><circle cx="508" cy="868" r="8.5"/><text x="508" y="870">Elias_A</text></g>
<g id="n-wang-a" class="nb"><circle cx="552" cy="837" r="8.5"/><text x="550" y="839">Wang_A</text></g>
<g id="n-zhao" class="nb"><circle cx="572" cy="842" r="8.5"/><text x="576" y="846">Zhao_HB</text></g>
<g id="n-ryan" class="nb"><circle cx="568" cy="870" r="8.5"/><text x="568" y="872">Ryan_B</text></g>
<g id="n-deforest" class="nb"><circle cx="607" cy="837" r="8.5"/><text x="603" y="839">DEFOREST</text></g>
<g id="n-jain" class="nb"><circle cx="628" cy="843" r="8.5"/><text x="632" y="847">JAIN_AA</text></g>
<g id="n-morrison" class="nb"><circle cx="620" cy="868" r="8.5"/><text x="620" y="870">MORRISON_J</text></g>
<g id="n-alexander" class="nb"><circle cx="658" cy="836" r="8.5"/><text x="662" y="838">Alexander_B</text></g>
<g id="n-nash" class="nb"><circle cx="698" cy="836" r="8.5"/><text x="698" y="838">Nash_E</text></g>
<g id="n-hughey" class="nb"><circle cx="737" cy="836" r="8.5"/><text x="737" y="838">Hughey_D</text></g>
<g id="n-gama" class="nb"><circle cx="777" cy="836" r="8.5"/><text x="777" y="838">Gama_J</text></g>
<g id="n-hernandez" class="nb"><circle cx="807" cy="836" r="8.5"/><text x="807" y="838">Hernan_S</text></g>
<g id="n-baltazar" class="nb"><circle cx="837" cy="836" r="8.5"/><text x="839" y="838">Baltazar_P</text></g>
<g id="n-rogers" class="nb"><circle cx="872" cy="836" r="8.5"/><text x="872" y="838">Rogers_FN</text></g>
<g id="n-sundstrom" class="nb"><circle cx="905" cy="836" r="8.5"/><text x="905" y="838">Sund_K</text></g>
<g id="n-garcia-mb" class="nb"><circle cx="938" cy="836" r="8.5"/><text x="938" y="838">Garcia_MB</text></g>
<g id="n-hung" class="nb"><circle cx="972" cy="836" r="8.5"/><text x="972" y="838">Hung_LI</text></g>
<g id="n-wang-bh" class="nb"><circle cx="1010" cy="836" r="8.5"/><text x="1010" y="838">Wang_BH</text></g>
<g id="n-andersen-m" class="nb"><circle cx="112" cy="905" r="8.5"/><text x="112" y="907">Andersen_M</text></g>
<g id="n-pedersen-p" class="nb"><circle cx="150" cy="905" r="8.5"/><text x="148" y="907">Peders_P</text></g>
<g id="n-petersen-j" class="nb"><circle cx="182" cy="905" r="8.5"/><text x="182" y="907">Peter_J</text></g>
<g id="n-jorgensen" class="nb"><circle cx="215" cy="905" r="8.5"/><text x="215" y="907">Jorgen_HP</text></g>
<g id="n-hansen-kp" class="nb"><circle cx="248" cy="905" r="8.5"/><text x="248" y="907">Hansen_KP</text></g>
<g id="n-niels" class="nb"><circle cx="282" cy="905" r="8.5"/><text x="282" y="907">Niels_J</text></g>
<g id="n-jensen" class="nb"><circle cx="317" cy="905" r="8.5"/><text x="317" y="907">Jensen_P</text></g>
<g id="n-hendrik" class="nb"><circle cx="353" cy="905" r="8.5"/><text x="353" y="907">Hendrik_D</text></g>
<g id="n-hansen-m" class="nb"><circle cx="385" cy="905" r="8.5"/><text x="385" y="907">Hansen_M</text></g>
<g id="n-hauser" class="nb"><circle cx="418" cy="905" r="8.5"/><text x="418" y="907">Hauser_T</text></g>
<g id="n-sturm" class="nb"><circle cx="453" cy="905" r="8.5"/><text x="453" y="907">STURM_F</text></g>
<g id="n-heinz" class="nb"><circle cx="487" cy="905" r="8.5"/><text x="487" y="907">HEINZ_B</text></g>
<g id="n-lee-m" class="nb"><circle cx="520" cy="905" r="8.5"/><text x="520" y="907">Lee_M</text></g>
<g id="n-kim-hh" class="nb"><circle cx="563" cy="905" r="8.5"/><text x="563" y="907">Kim_HH</text></g>
<g id="n-douglas" class="nb"><circle cx="593" cy="905" r="8.5"/><text x="593" y="907">Douglas_RM</text></g>
<g id="n-randall" class="nb"><circle cx="628" cy="905" r="8.5"/><text x="628" y="907">Randall_L</text></g>
<g id="n-santa" class="nb"><circle cx="665" cy="905" r="8.5"/><text x="665" y="907">Santa_MAP</text></g>
<g id="n-fernandez" class="nb"><circle cx="702" cy="905" r="8.5"/><text x="702" y="907">Fernand_AK</text></g>
<g id="n-cortes" class="nb"><circle cx="737" cy="905" r="8.5"/><text x="737" y="907">CORTES_R</text></g>
<g id="n-ferro" class="nb"><circle cx="773" cy="905" r="8.5"/><text x="773" y="907">FERRO_F</text></g>
<g id="n-ruth" class="nb"><circle cx="835" cy="905" r="8.5"/><text x="835" y="907">RUTH_A</text></g>
<g id="n-rosseau" class="nb"><circle cx="872" cy="905" r="8.5"/><text x="870" y="907">ROSSEAU</text></g>
<g id="n-hagemann" class="nb"><circle cx="905" cy="905" r="8.5"/><text x="905" y="907">HAGEM_F</text></g>
<g id="n-lopes" class="nb"><circle cx="940" cy="905" r="8.5"/><text x="940" y="907">Lopes_RM</text></g>
<g id="n-martins" class="nb"><circle cx="975" cy="905" r="8.5"/><text x="975" y="907">Martins_FS</text></g>
<g id="n-ulrich" class="nb"><circle cx="112" cy="937" r="8.5"/><text x="112" y="939">Ulrich_J</text></g>
<g id="n-blix" class="nb"><circle cx="148" cy="937" r="8.5"/><text x="148" y="939">Blix_F</text></g>
<g id="n-sundberg" class="nb"><circle cx="183" cy="937" r="8.5"/><text x="181" y="939">Sundb_N</text></g>
<g id="n-hansen-m2" class="nb"><circle cx="217" cy="937" r="8.5"/><text x="217" y="939">Hansen_MK</text></g>
<g id="n-holm" class="nb"><circle cx="247" cy="937" r="8.5"/><text x="247" y="939">Holm_G</text></g>
<g id="n-hemmi" class="nb"><circle cx="280" cy="937" r="8.5"/><text x="278" y="939">Hemmi_C</text></g>
<g id="n-sanderson" class="nb"><circle cx="310" cy="937" r="8.5"/><text x="312" y="939">SAND_M</text></g>
<g id="n-ramsden" class="nb"><circle cx="350" cy="937" r="8.5"/><text x="350" y="939">RAMS_M</text></g>
<g id="n-larsson" class="nb"><circle cx="380" cy="937" r="8.5"/><text x="381" y="939">Lars_BS</text></g>
<g id="n-perez" class="nb"><circle cx="417" cy="937" r="8.5"/><text x="417" y="939">Perez_M</text></g>
<g id="n-rodriguez" class="nb"><circle cx="448" cy="937" r="8.5"/><text x="448" y="939">Rodrig_M</text></g>
<g id="n-moore-j" class="nb"><circle cx="485" cy="937" r="8.5"/><text x="485" y="939">Moore_J</text></g>
<g id="n-kim-dh" class="nb"><circle cx="520" cy="937" r="8.5"/><text x="520" y="939">Kim_DH</text></g>
<g id="n-pak" class="nb"><circle cx="565" cy="937" r="8.5"/><text x="565" y="939">Pak_FH</text></g>
<g id="n-zheng" class="nb"><circle cx="602" cy="937" r="8.5"/><text x="600" y="939">ZHENG</text></g>
<g id="n-chen" class="nb"><circle cx="630" cy="937" r="8.5"/><text x="632" y="939">CHEN_SH</text></g>
<g id="n-abreu" class="nb"><circle cx="667" cy="937" r="8.5"/><text x="667" y="939">ABREU_FH</text></g>
<g id="n-faria" class="nb"><circle cx="702" cy="937" r="8.5"/><text x="702" y="939">FARIA_LM</text></g>
<g id="n-acosta-a" class="nb"><circle cx="738" cy="937" r="8.5"/><text x="738" y="939">Acosta_A</text></g>
<g id="n-souza" class="nb"><circle cx="773" cy="937" r="8.5"/><text x="773" y="939">Souza_FL</text></g>
</svg>
